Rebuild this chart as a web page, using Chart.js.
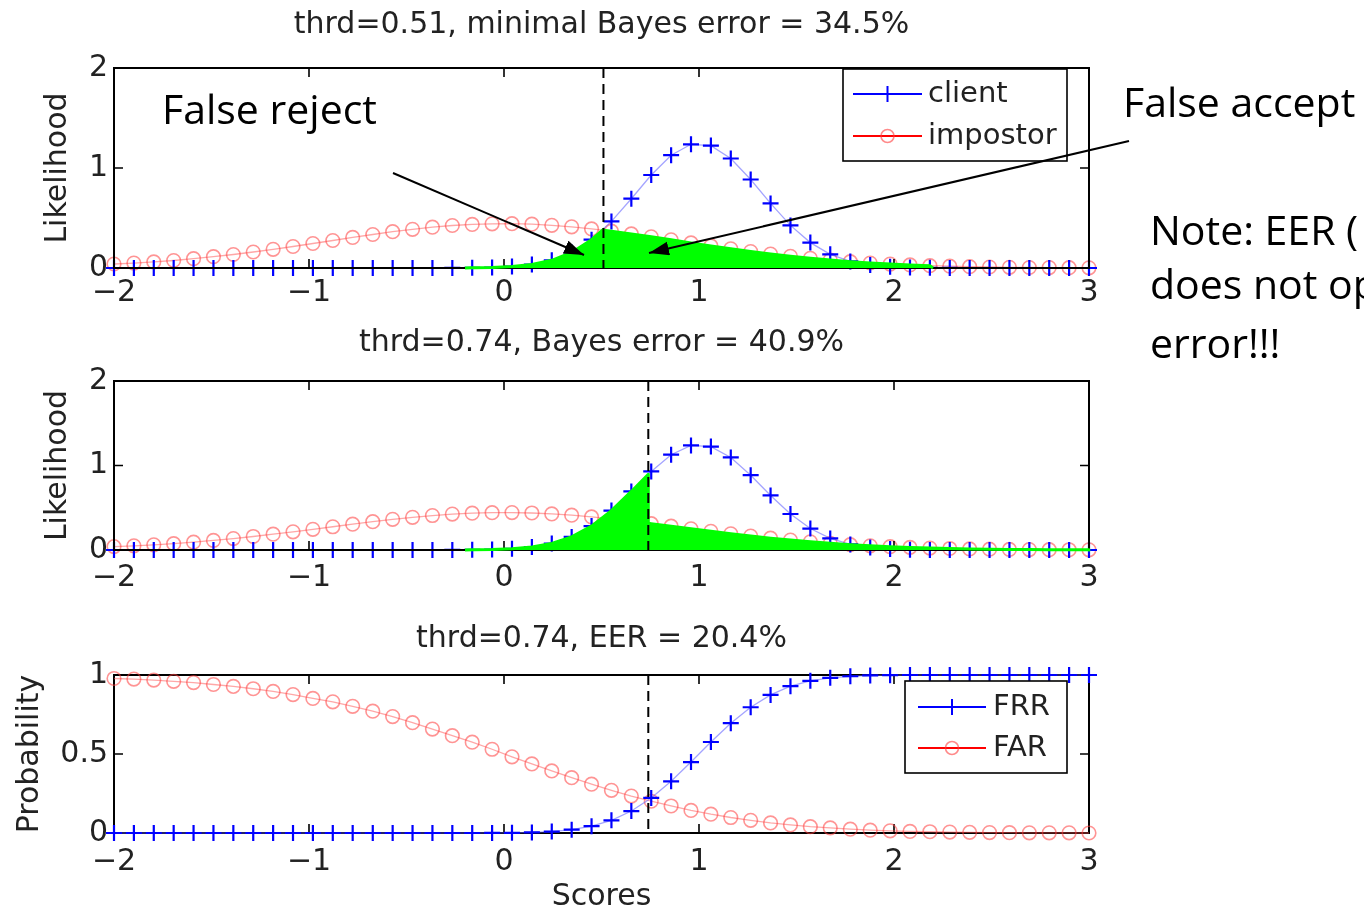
<!DOCTYPE html>
<html>
<head>
<script src="https://cdn.jsdelivr.net/npm/chart.js@4.4.0/dist/chart.umd.min.js"></script>
<style>
  html, body { margin: 0; padding: 0; background: #fff; overflow: hidden; }
  #page { position: relative; width: 1364px; height: 913px; overflow: hidden; background: #fff; }
  #page canvas { position: absolute; left: 0; }
  .note { position: absolute; font-family: 'Open Sans', sans-serif; font-size: 41px; line-height: 41px; color: #000; white-space: nowrap; }
  #arrows { position: absolute; left: 0; top: 0; }
</style>
</head>
<body>
<div id="page">
  <canvas id="c1" width="1364" height="310" style="top:0px"></canvas>
  <canvas id="c2" width="1364" height="290" style="top:310px"></canvas>
  <canvas id="c3" width="1364" height="315" style="top:600px"></canvas>

  <div class="note" style="left:162px; top:88px;">False reject</div>
  <div class="note" style="left:1123px; top:81px;">False accept</div>
  <div class="note" style="left:1150px; top:209px;">Note: EER (</div>
  <div class="note" style="left:1150px; top:263px;">does not op</div>
  <div class="note" style="left:1150px; top:322px;">error!!!</div>

  <svg id="arrows" width="1364" height="913">
    <defs>
      <marker id="ah" markerUnits="userSpaceOnUse" markerWidth="22" markerHeight="16" refX="20" refY="7" orient="auto">
        <path d="M0,0 L20,7 L0,14 z" fill="#000"/>
      </marker>
    </defs>
    <line x1="393" y1="173" x2="584" y2="255" stroke="#000" stroke-width="2" marker-end="url(#ah)"/>
    <line x1="1129" y1="141" x2="649" y2="253" stroke="#000" stroke-width="2" marker-end="url(#ah)"/>
  </svg>
</div>

<script>
// score grid (50 points from -2 to 3)
const scores = [-2.000, -1.898, -1.796, -1.694, -1.592, -1.490, -1.388, -1.286, -1.184, -1.082,
                -0.980, -0.878, -0.776, -0.673, -0.571, -0.469, -0.367, -0.265, -0.163, -0.061,
                 0.041,  0.143,  0.245,  0.347,  0.449,  0.551,  0.653,  0.755,  0.857,  0.959,
                 1.061,  1.163,  1.265,  1.367,  1.469,  1.571,  1.673,  1.776,  1.878,  1.980,
                 2.082,  2.184,  2.286,  2.388,  2.490,  2.592,  2.694,  2.796,  2.898,  3.000];

const clientPdf = [0, 0, 0, 0, 0, 0, 0, 0, 0, 0,
                   0, 0, 0, 0, 0, 0, 0.0001, 0.0005, 0.0017, 0.0051,
                   0.014, 0.035, 0.077, 0.155, 0.283, 0.466, 0.693, 0.930, 1.128, 1.237,
                   1.224, 1.095, 0.885, 0.646, 0.426, 0.254, 0.137, 0.066, 0.029, 0.012,
                   0.004, 0.0013, 0.0004, 0.0001, 0, 0, 0, 0, 0, 0];

const impostorPdf = [0.040, 0.049, 0.061, 0.075, 0.093, 0.113, 0.135, 0.160, 0.187, 0.215,
                     0.245, 0.275, 0.306, 0.335, 0.363, 0.387, 0.408, 0.425, 0.436, 0.442,
                     0.443, 0.438, 0.427, 0.412, 0.391, 0.368, 0.341, 0.312, 0.282, 0.251,
                     0.221, 0.192, 0.165, 0.140, 0.117, 0.097, 0.079, 0.063, 0.050, 0.039,
                     0.031, 0.023, 0.018, 0.013, 0.010, 0.007, 0.005, 0.004, 0.003, 0.002];

const frr = [0, 0, 0, 0, 0, 0, 0, 0, 0, 0,
             0, 0, 0, 0, 0, 0, 0, 0, 0.0001, 0.0005,
             0.0014, 0.0037, 0.0092, 0.021, 0.043, 0.080, 0.139, 0.222, 0.327, 0.449,
             0.576, 0.695, 0.796, 0.874, 0.929, 0.963, 0.982, 0.992, 0.997, 0.999,
             1, 1, 1, 1, 1, 1, 1, 1, 1, 1];

const far = [0.978, 0.974, 0.968, 0.960, 0.952, 0.940, 0.928, 0.913, 0.896, 0.876,
             0.852, 0.830, 0.802, 0.771, 0.737, 0.698, 0.658, 0.616, 0.575, 0.530,
             0.482, 0.437, 0.393, 0.350, 0.309, 0.270, 0.234, 0.201, 0.171, 0.143,
             0.119, 0.098, 0.080, 0.064, 0.051, 0.040, 0.032, 0.024, 0.018, 0.014,
             0.010, 0.008, 0.006, 0.004, 0.003, 0.002, 0.001, 0.001, 0.001, 0];

const thresholds = [0.51, 0.74, 0.74];
const titles = ['thrd=0.51, minimal Bayes error = 34.5%',
                'thrd=0.74, Bayes error = 40.9%',
                'thrd=0.74, EER = 20.4%'];

// green error area: client below thrd, impostor above thrd
const clientAtThrd = [0.386, 0.896];
const impostorAtThrd = [0.378, 0.316];
const areaFrom = [-0.2, -0.2];
const areaTo = [2.2, 3.0];

const FONT = "'DejaVu Sans', sans-serif";
const TXT = '#222';

function pts(ys) {
  return scores.map((x, k) => ({x: x, y: ys[k]}));
}

function errorArea(i) {
  const t = thresholds[i];
  const d = [{x: areaFrom[i], y: 0}];
  scores.forEach((x, k) => { if (x > areaFrom[i] && x < t) d.push({x: x, y: clientPdf[k]}); });
  d.push({x: t, y: clientAtThrd[i]}, {x: t, y: impostorAtThrd[i]});
  scores.forEach((x, k) => { if (x > t && x <= areaTo[i]) d.push({x: x, y: impostorPdf[k]}); });
  d.push({x: areaTo[i], y: 0});
  return d;
}

function fmt(v) {
  return v < 0 ? '\u2212' + Math.abs(v) : String(v);
}

// box, inward ticks, threshold line, legend (matlab look)
const matlabAxes = {
  id: 'matlabAxes',
  drawBox(chart) {
    const {ctx, chartArea: a, scales} = chart;
    ctx.save();
    ctx.strokeStyle = '#000';
    ctx.lineWidth = 2;
    ctx.strokeRect(a.left, a.top, a.right - a.left, a.bottom - a.top);
    ctx.lineWidth = 1.6;
    ctx.beginPath();
    scales.x.ticks.forEach(t => {
      const px = scales.x.getPixelForValue(t.value);
      ctx.moveTo(px, a.bottom); ctx.lineTo(px, a.bottom - 9);
      ctx.moveTo(px, a.top); ctx.lineTo(px, a.top + 9);
    });
    scales.y.ticks.forEach(t => {
      const py = scales.y.getPixelForValue(t.value);
      ctx.moveTo(a.left, py); ctx.lineTo(a.left + 9, py);
      ctx.moveTo(a.right, py); ctx.lineTo(a.right - 9, py);
    });
    ctx.stroke();
    ctx.restore();
  },
  beforeDatasetsDraw(chart, args, opts) {
    if (!opts.boxOverLines) this.drawBox(chart);
  },
  afterDatasetDraw(chart, args, opts) {
    if (opts.boxOverLines && args.index === 1) this.drawBox(chart);
  },
  afterDatasetsDraw(chart, args, opts) {
    const {ctx, chartArea: a, scales} = chart;
    const px = scales.x.getPixelForValue(opts.threshold);
    ctx.save();
    ctx.strokeStyle = '#000';
    ctx.lineWidth = 2;
    ctx.setLineDash([10, 6]);
    ctx.beginPath();
    ctx.moveTo(px, a.top);
    ctx.lineTo(px, a.bottom);
    ctx.stroke();
    ctx.restore();

    const lg = opts.legend;
    if (!lg) return;
    ctx.save();
    ctx.fillStyle = '#fff';
    ctx.fillRect(lg.x1, lg.y1, lg.x2 - lg.x1, lg.y2 - lg.y1);
    ctx.strokeStyle = '#000';
    ctx.lineWidth = 1.6;
    ctx.strokeRect(lg.x1, lg.y1, lg.x2 - lg.x1, lg.y2 - lg.y1);
    lg.items.forEach((it, j) => {
      const y = lg.rows[j];
      ctx.strokeStyle = it.line;
      ctx.lineWidth = 2;
      ctx.beginPath();
      ctx.moveTo(lg.lineFrom, y); ctx.lineTo(lg.lineTo, y);
      ctx.stroke();
      const mx = (lg.lineFrom + lg.lineTo) / 2;
      ctx.strokeStyle = it.marker;
      ctx.beginPath();
      if (it.style === 'cross') {
        ctx.moveTo(mx - 8, y); ctx.lineTo(mx + 8, y);
        ctx.moveTo(mx, y - 8); ctx.lineTo(mx, y + 8);
      } else {
        ctx.lineWidth = 1.6;
        ctx.arc(mx, y, 6.5, 0, Math.PI * 2);
      }
      ctx.stroke();
      ctx.fillStyle = TXT;
      ctx.font = "29px " + FONT;
      ctx.textBaseline = 'middle';
      ctx.fillText(it.text, lg.textX, y);
    });
    ctx.restore();
  }
};

function makeOptions(p) {
  const tickFont = {family: FONT, size: 30};
  return {
    responsive: false,
    animation: false,
    events: [],
    layout: {padding: {left: 0, right: 275, top: 0, bottom: 0}},
    plugins: {
      legend: {display: false},
      tooltip: {enabled: false},
      title: {
        display: true, text: p.title, fullSize: false, color: TXT,
        font: {family: FONT, size: 30, weight: 'normal'},
        padding: {top: p.titleTop, bottom: p.titleBottom}
      },
      matlabAxes: {threshold: p.threshold, boxOverLines: p.boxOverLines, legend: p.legend}
    },
    scales: {
      x: {
        type: 'linear', min: -2, max: 3,
        afterFit: s => { s.height = p.xHeight; },
        grid: {display: false, drawTicks: false},
        border: {display: false},
        ticks: {stepSize: 1, padding: p.xPad, color: TXT, font: tickFont, maxRotation: 0, autoSkip: false, callback: fmt},
        title: {display: !!p.xTitle, text: p.xTitle || '', color: TXT, font: tickFont, padding: {top: 0, bottom: 0}}
      },
      y: {
        type: 'linear', min: 0, max: p.yMax,
        afterFit: s => { s.width = 114; },
        grid: {display: false, drawTicks: false},
        border: {display: false},
        ticks: {stepSize: p.yStep, padding: 6, color: TXT, font: tickFont, callback: fmt},
        title: {display: true, text: p.yTitle, color: TXT, font: tickFont, padding: {top: p.yTitlePad, bottom: 0}}
      }
    }
  };
}

const clientStyle = {borderColor: 'rgba(90,90,255,0.55)', borderWidth: 1.3, pointStyle: 'cross', pointRadius: 8,
                     pointBorderColor: '#0000ff', pointBorderWidth: 2.2, fill: false, tension: 0, clip: false};
const impostorStyle = {borderColor: 'rgba(255,80,80,0.5)', borderWidth: 1.3, pointStyle: 'circle', pointRadius: 6.8,
                       pointBorderColor: 'rgba(255,60,60,0.55)', pointBackgroundColor: 'rgba(0,0,0,0)',
                       pointBorderWidth: 1.6, fill: false, tension: 0, clip: false};

function likelihoodSets(i) {
  return [
    {label: 'error', data: errorArea(i), borderColor: '#00ff00', backgroundColor: '#00ff00',
     borderWidth: 3, borderJoinStyle: 'round', fill: 'origin', pointRadius: 0, tension: 0, clip: false},
    Object.assign({label: 'client', data: pts(clientPdf)}, clientStyle),
    Object.assign({label: 'impostor', data: pts(impostorPdf)}, impostorStyle)
  ];
}

new Chart(document.getElementById('c1'), {
  type: 'line',
  data: {datasets: likelihoodSets(0)},
  options: makeOptions({
    title: titles[0], titleTop: 7, titleBottom: 25, threshold: thresholds[0], boxOverLines: true,
    xHeight: 42, xPad: 7, yMax: 2, yStep: 1, yTitle: 'Likelihood', yTitlePad: 40,
    legend: {x1: 843, y1: 69, x2: 1067, y2: 161, rows: [94, 136], lineFrom: 853, lineTo: 922, textX: 928,
             items: [{text: 'client', line: '#0000ff', marker: '#0000ff', style: 'cross'},
                     {text: 'impostor', line: '#ff0000', marker: 'rgba(255,60,60,0.6)', style: 'circle'}]}
  }),
  plugins: [matlabAxes]
});

new Chart(document.getElementById('c2'), {
  type: 'line',
  data: {datasets: likelihoodSets(1)},
  options: makeOptions({
    title: titles[1], titleTop: 15, titleBottom: 20, threshold: thresholds[1], boxOverLines: true,
    xHeight: 50, xPad: 10, yMax: 2, yStep: 1, yTitle: 'Likelihood', yTitlePad: 40
  }),
  plugins: [matlabAxes]
});

new Chart(document.getElementById('c3'), {
  type: 'line',
  data: {
    datasets: [
      Object.assign({label: 'FRR', data: pts(frr)}, clientStyle),
      Object.assign({label: 'FAR', data: pts(far)}, impostorStyle)
    ]
  },
  options: makeOptions({
    title: titles[2], titleTop: 21, titleBottom: 18, threshold: thresholds[2], boxOverLines: false,
    xHeight: 82, xPad: 11, xTitle: 'Scores', yMax: 1, yStep: 0.5, yTitle: 'Probability', yTitlePad: 12,
    legend: {x1: 905, y1: 81, x2: 1067, y2: 173, rows: [107, 148], lineFrom: 918, lineTo: 986, textX: 993,
             items: [{text: 'FRR', line: '#0000ff', marker: '#0000ff', style: 'cross'},
                     {text: 'FAR', line: '#ff0000', marker: 'rgba(255,60,60,0.6)', style: 'circle'}]}
  }),
  plugins: [matlabAxes]
});
</script>
</body>
</html>
